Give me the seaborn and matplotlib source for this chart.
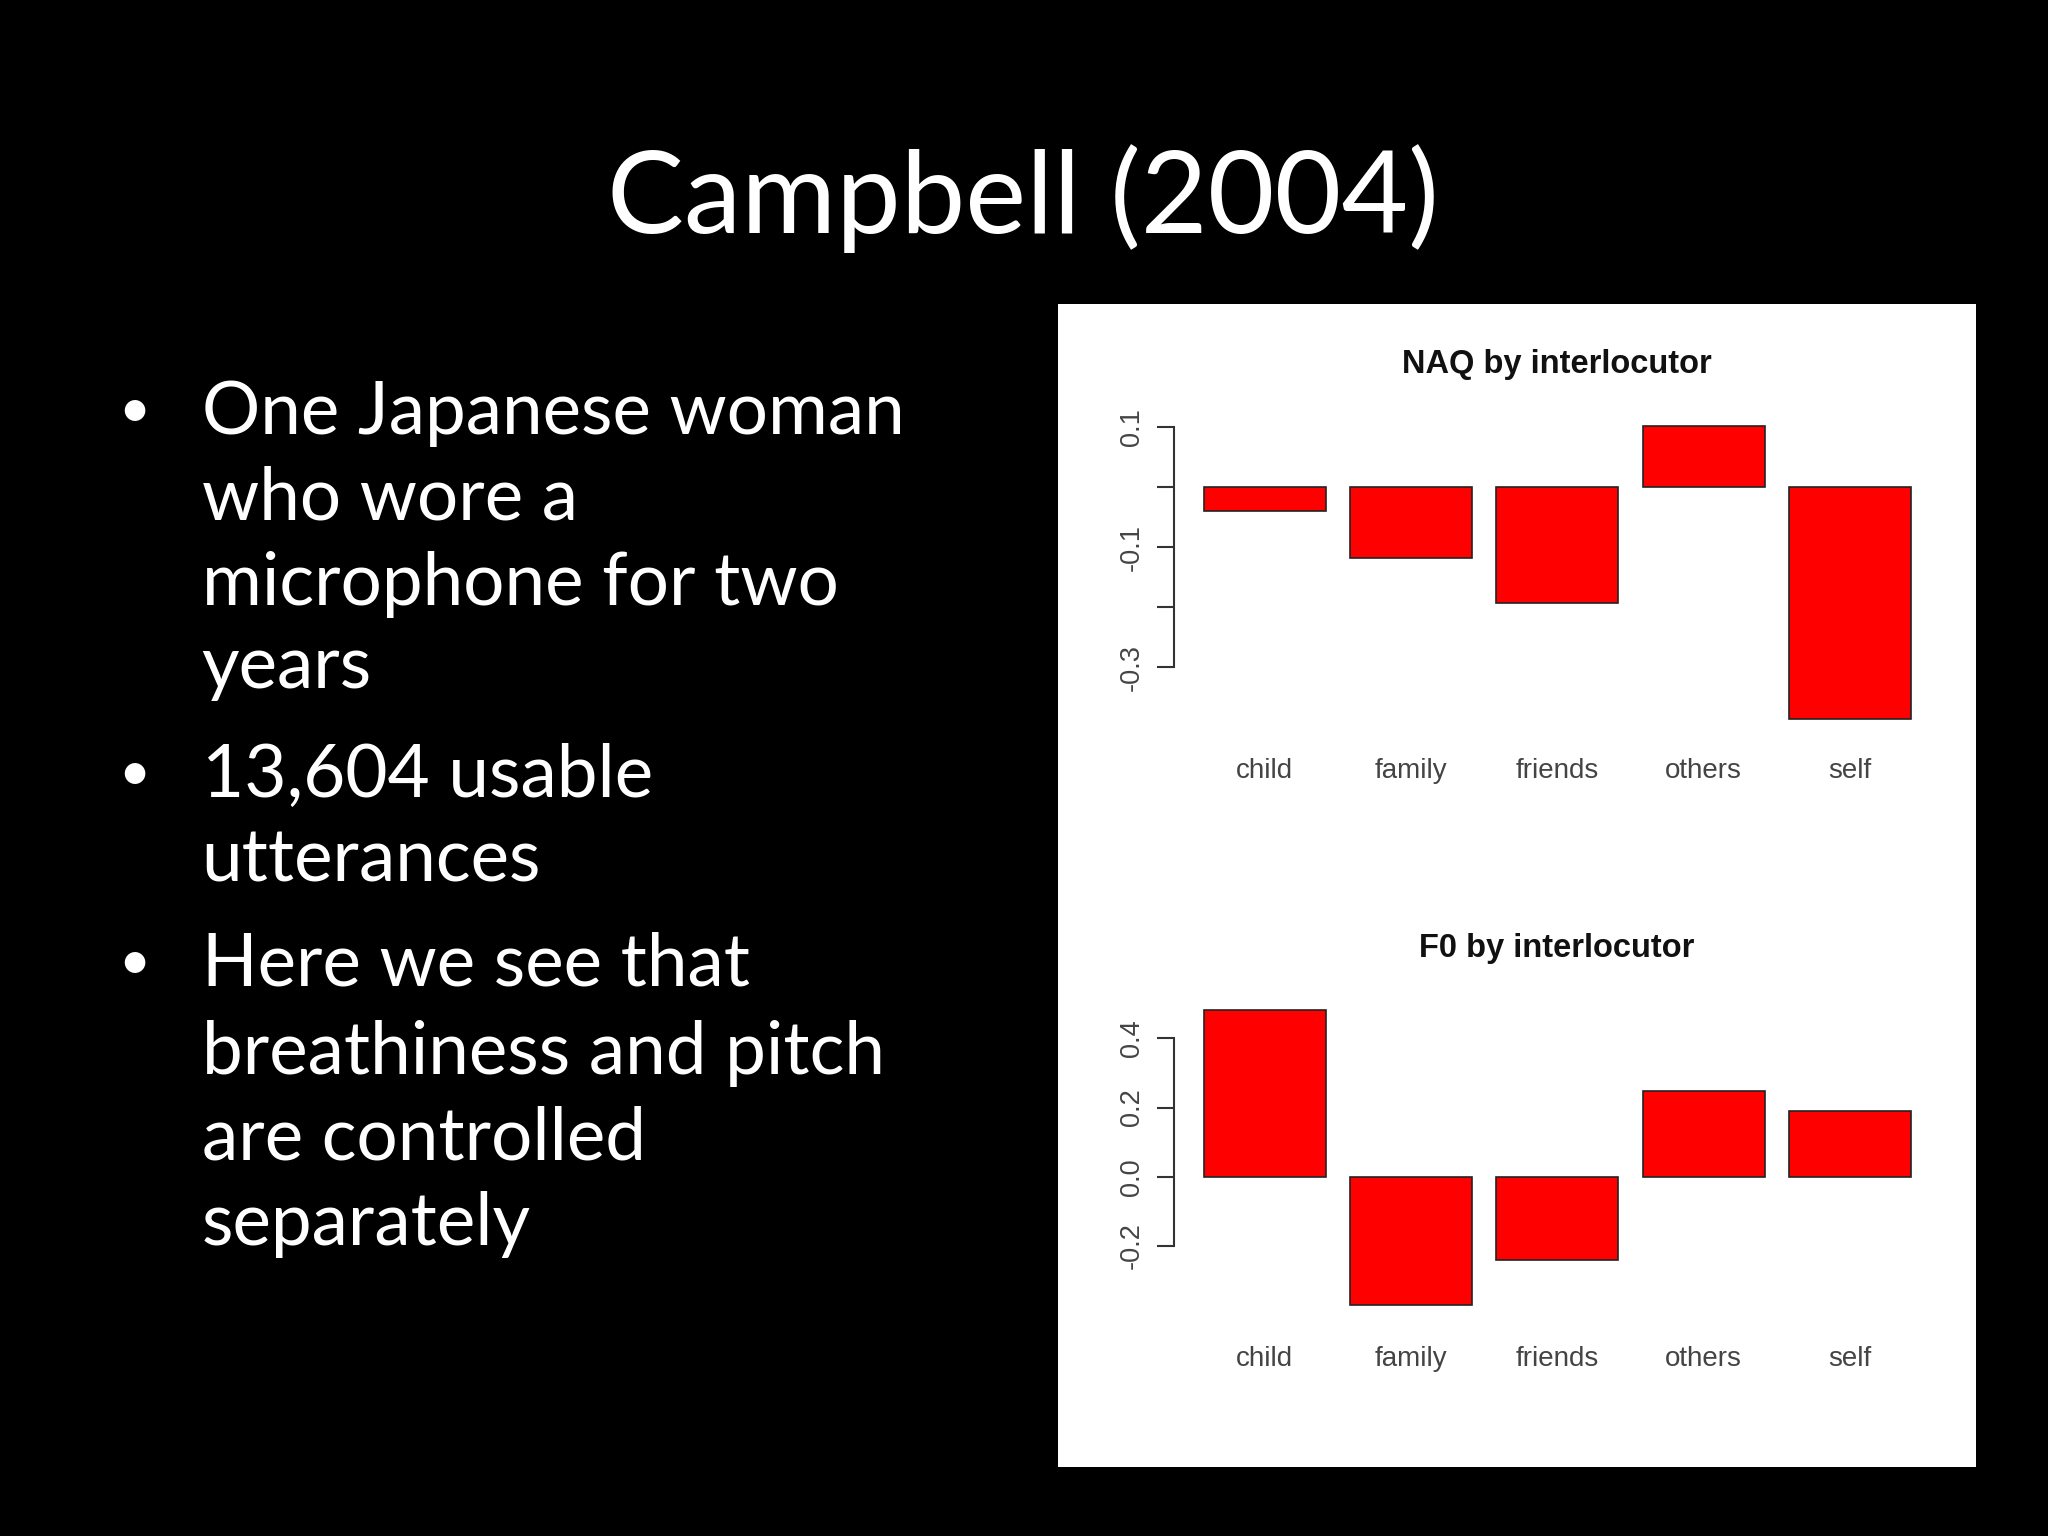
import seaborn as sns
import matplotlib.pyplot as plt
import pandas as pd

# data
speakers = ['child', 'family', 'friends', 'others', 'self']
naq = [-0.040, -0.118, -0.193, 0.102, -0.386]
f0 = [0.482, -0.370, -0.241, 0.249, 0.189]

naq_ticks = [-0.3, -0.2, -0.1, 0.0, 0.1]
naq_ticklabels = ['-0.3', '', '-0.1', '', '0.1']
f0_ticks = [-0.2, 0.0, 0.2, 0.4]
f0_ticklabels = ['-0.2', '0.0', '0.2', '0.4']

slide_title = 'Campbell (2004)'
bullets = [
    ['One Japanese woman', 'who wore a', 'microphone for two', 'years'],
    ['13,604 usable', 'utterances'],
    ['Here we see that', 'breathiness and pitch', 'are controlled', 'separately'],
]

sns.set_style('white')
plt.rcParams['font.family'] = ['Lato', 'DejaVu Sans']

fig = plt.figure(figsize=(20.48, 15.36), dpi=100)
fig.patch.set_facecolor('black')

# slide text
fig.text(0.4995, 0.8480, slide_title, color='white', fontsize=83,
         ha='center', va='baseline')

baselines = [434, 519, 605, 688, 797, 882, 986, 1074, 1159, 1245]  # px from top
k = 0
for group in bullets:
    fig.text(134 / 2048, 1 - (baselines[k] - 7) / 1536, '\u2022', color='white',
             fontsize=40, ha='center', va='baseline')
    for line in group:
        fig.text(0.0985, 1 - baselines[k] / 1536, line, color='white',
                 fontsize=52.5, ha='left', va='baseline')
        k += 1

# white image panel (behind the two plots)
panel = fig.add_axes([1058 / 2048, 1 - 1467 / 1536, 918 / 2048, 1163 / 1536])
panel.set_facecolor('white')
panel.set_xticks([])
panel.set_yticks([])
for s in panel.spines.values():
    s.set_visible(False)


def r_barplot(ax, values, ticks, ticklabels, ylim, title, title_y, xpad):
    df = pd.DataFrame({'who': speakers, 'val': values})
    sns.barplot(data=df, x='who', y='val', ax=ax, color='#ff0000', saturation=1,
                edgecolor='#222222', linewidth=1.2, width=0.833)
    ax.set_facecolor('none')
    ax.set_xlim(-0.62, 4.62)
    ax.set_ylim(*ylim)
    ax.set_xlabel('')
    ax.set_ylabel('')
    for s in ['top', 'right', 'bottom']:
        ax.spines[s].set_visible(False)
    ax.spines['left'].set_bounds(ticks[0], ticks[-1])
    ax.spines['left'].set_color('#333333')
    ax.spines['left'].set_linewidth(1.5)
    ax.set_yticks(ticks)
    ax.set_yticklabels(ticklabels, rotation=90, va='center',
                       fontfamily='Liberation Sans', fontsize=19.5, color='#444444')
    ax.tick_params(axis='y', left=True, length=12, width=1.5, color='#333333', pad=9)
    ax.tick_params(axis='x', bottom=False, length=0, pad=xpad)
    for lab in ax.get_xticklabels():
        lab.set_fontfamily('Liberation Sans')
        lab.set_fontsize(20)
        lab.set_color('#444444')
    fig.text(1557 / 2048, title_y, title, ha='center', va='center',
             fontfamily='Liberation Sans', fontweight='bold', fontsize=23.5, color='#111111')


ax1 = fig.add_axes([0.5733, 0.5225, 0.3743, 0.2072])
r_barplot(ax1, naq, naq_ticks, naq_ticklabels, (-0.41, 0.12),
          'NAQ by interlocutor', 1 - 365 / 1536, 18)

ax2 = fig.add_axes([0.5733, 0.1437, 0.3743, 0.2028])
r_barplot(ax2, f0, f0_ticks, f0_ticklabels, (-0.40, 0.50),
          'F0 by interlocutor', 1 - 948 / 1536, 22)

plt.savefig('out.png', dpi=100, facecolor='black')
